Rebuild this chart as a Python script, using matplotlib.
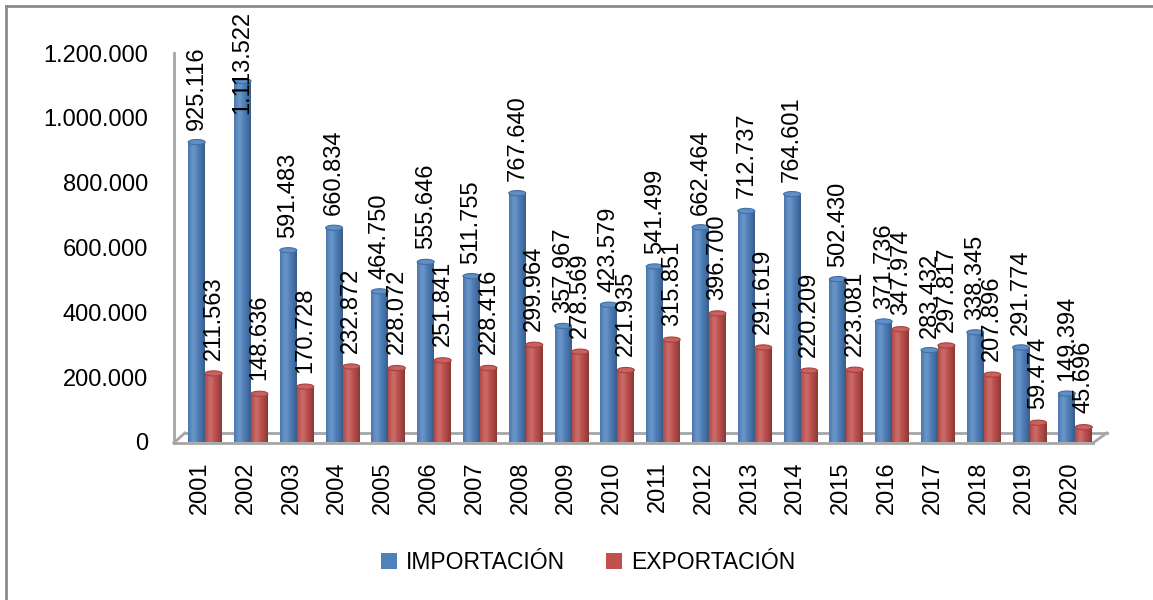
import numpy as np
import matplotlib
matplotlib.use("Agg")
import matplotlib.pyplot as plt
from matplotlib.patches import Ellipse, Patch
from matplotlib.lines import Line2D
from matplotlib.colors import to_rgb

plt.rcParams['font.family'] = ['Liberation Sans', 'DejaVu Sans']

years = [str(y) for y in range(2001, 2021)]
importacion = [925116, 1113522, 591483, 660834, 464750, 555646, 511755, 767640, 357967, 423579,
               541499, 662464, 712737, 764601, 502430, 371736, 283432, 338345, 291774, 149394]
exportacion = [211563, 148636, 170728, 232872, 228072, 251841, 228416, 299964, 278569, 221935,
               315851, 396700, 291619, 220209, 223081, 347974, 297817, 207896, 59474, 45696]
series_names = ['IMPORTACIÓN', 'EXPORTACIÓN']
yticks = [0, 200000, 400000, 600000, 800000, 1000000, 1200000]

BLUE = '#4F81BD'
RED = '#C0504D'
FS = 17


def fmt(v):
    # miles con punto
    return f"{v:,}".replace(',', '.')


def gradient_img(color, n=64):
    c = np.array(to_rgb(color))
    t = np.linspace(0, 1, n)
    light = np.exp(-((t - 0.32) / 0.2) ** 2)
    dark = np.clip(np.abs(t - 0.35) / 0.65, 0, 1) ** 2
    row = c[None, :] * (1 - 0.3 * dark[:, None]) + (1 - c[None, :]) * 0.15 * light[:, None]
    return np.clip(row[None, :, :], 0, 1)


def cylinders(ax, xs, vals, width, color):
    bars = ax.bar(xs, vals, width=width, color=color, zorder=2)
    img = gradient_img(color)
    c = np.array(to_rgb(color))
    eh = 16000
    for b, v in zip(bars, vals):
        x0 = b.get_x()
        # fondo redondeado
        ax.add_patch(Ellipse((x0 + width / 2, 0), width, eh, facecolor=c * 0.8, edgecolor='none', zorder=1.9))
        im = ax.imshow(img, extent=[x0, x0 + width, 0, v], aspect='auto', zorder=2.1, interpolation='bilinear')
        im.set_clip_path(b)
        ax.add_patch(Ellipse((x0 + width / 2, v), width, eh,
                             facecolor=np.clip(c * 0.95 + 0.08, 0, 1), edgecolor=c * 0.85, lw=0.8, zorder=2.2))
    return bars


def labels(ax, xs, vals, off):
    for xi, v in zip(xs, vals):
        if v > 1050000:
            # no cabe arriba: se pega al borde superior
            ax.annotate(fmt(v), (xi, 1200000), xytext=(0, 30), textcoords='offset points',
                        rotation=90, ha='center', va='top', fontsize=FS, zorder=5)
        else:
            ax.annotate(fmt(v), (xi, v), xytext=(0, off), textcoords='offset points',
                        rotation=90, ha='center', va='bottom', fontsize=FS, zorder=5)


fig = plt.figure(figsize=(11.53, 6.0), dpi=100)
ax = fig.add_axes([177 / 1153, 1 - 442 / 600, 916 / 1153, 389 / 600])

x = np.arange(len(years))
w = 0.37
cylinders(ax, x - 0.07, importacion, w, BLUE)
cylinders(ax, x + 0.30, exportacion, w, RED)
labels(ax, x - 0.07, importacion, 9)
labels(ax, x + 0.30, exportacion, 10)

ax.set_xlim(-0.5, 19.5)
ax.set_ylim(0, 1200000)
ax.set_yticks(yticks)
ax.set_yticklabels([fmt(v) for v in yticks], fontsize=FS)
ax.set_xticks(x)
ax.set_xticklabels(years, rotation=90, fontsize=FS)
ax.tick_params(axis='y', length=0, pad=21)
ax.tick_params(axis='x', length=0, pad=14)
for s in ax.spines.values():
    s.set_visible(False)

# piso y pared (efecto 3D)
gray = '#A6A6A6'
kw = dict(color=gray, lw=2, clip_on=False, zorder=1)
ax.plot([-0.57, 19.5], [-3000, -3000], **kw)
ax.plot([-0.33, 19.8], [27700, 27700], **kw)
ax.plot([-0.57, -0.33], [-3000, 27700], **kw)
ax.plot([19.5, 19.8], [-3000, 27700], **kw)
ax.plot([-0.57, -0.57], [-3000, 1200000], **kw)

handles = [Patch(facecolor=BLUE, edgecolor='none'), Patch(facecolor=RED, edgecolor='none')]
fig.legend(handles, series_names, loc='center', bbox_to_anchor=(0.51, 0.063), ncol=2,
           frameon=False, fontsize=16.5, handlelength=0.7, handleheight=0.7,
           handletextpad=0.4, columnspacing=1.8)

# marco
fig.add_artist(Line2D([6 / 1153, 6 / 1153], [0, 1 - 6 / 600], color='#8C8C8C', lw=2, transform=fig.transFigure))
fig.add_artist(Line2D([6 / 1153, 1], [1 - 6 / 600, 1 - 6 / 600], color='#8C8C8C', lw=2, transform=fig.transFigure))

fig.savefig('out.png', dpi=100)
